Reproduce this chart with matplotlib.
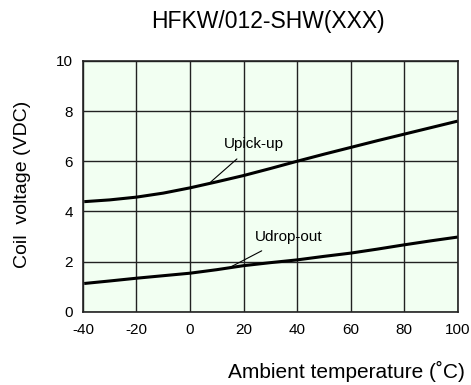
import numpy as np
import matplotlib
matplotlib.use("Agg")
import matplotlib.pyplot as plt

plt.rcParams['font.family'] = ['Liberation Sans', 'DejaVu Sans']
plt.rcParams['axes.unicode_minus'] = False

# temperatures (deg C) and read-off coil voltages
temp = [-39.5, -30, -20, -10, 0, 10, 20, 30, 40, 50, 60, 70, 80, 90, 100]
pick_up = [4.39, 4.46, 4.57, 4.73, 4.94, 5.18, 5.43, 5.71, 6.0, 6.28, 6.55, 6.82, 7.08, 7.34, 7.6]
drop_out = [1.13, 1.23, 1.34, 1.44, 1.54, 1.68, 1.84, 1.96, 2.07, 2.21, 2.34, 2.5, 2.67, 2.83, 2.98]

x_ticks = [-40, -20, 0, 20, 40, 60, 80, 100]
y_ticks = [0, 2, 4, 6, 8, 10]

fig = plt.figure(figsize=(4.71, 3.85), dpi=100)
ax = fig.add_axes([0.176, 0.19, 0.796, 0.652])
ax.set_facecolor('#f2fff2')

ax.plot(temp, pick_up, color='black', lw=2.2, solid_capstyle='butt')
ax.plot(temp, drop_out, color='black', lw=2.2, solid_capstyle='butt')

# labels with leader lines
ax.annotate('Upick-up', xy=(7.8, 5.18), xytext=(24, 6.7), ha='center', va='center',
            fontsize=11, arrowprops=dict(arrowstyle='-', lw=0.8, color='black',
                                         shrinkA=6, shrinkB=0))
ax.annotate('Udrop-out', xy=(14.5, 1.75), xytext=(37, 3.0), ha='center', va='center',
            fontsize=11, arrowprops=dict(arrowstyle='-', lw=0.8, color='black',
                                         shrinkA=7, shrinkB=0))

ax.set_xlim(-40, 100)
ax.set_ylim(0, 10)
ax.set_xticks(x_ticks)
ax.set_yticks(y_ticks)
ax.tick_params(length=0, labelsize=11, pad=8)
ax.tick_params(axis='y', pad=7)
ax.grid(True, color='#222222', lw=1.0)
for s in ax.spines.values():
    s.set_color('#222222')
    s.set_linewidth(1.2)

fig.text(0.569, 0.943, 'HFKW/012-SHW(XXX)', ha='center', va='center', fontsize=16.5)
fig.text(0.735, 0.034, 'Ambient temperature (˚C)', ha='center', va='center', fontsize=15)
fig.text(0.047, 0.52, 'Coil  voltage (VDC)', ha='center', va='center', fontsize=14,
         rotation=90)

fig.savefig('out.png', dpi=100)
